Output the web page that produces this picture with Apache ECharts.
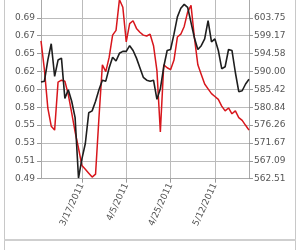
<!DOCTYPE html>
<html><head><meta charset="utf-8">
<script src="https://cdn.jsdelivr.net/npm/echarts@6/dist/echarts.min.js"></script>
<style>html,body{margin:0;padding:0;background:#fff}#c{width:300px;height:250px}</style>
</head><body><div id="c"></div>
<script>
var dates = ["3/1/2011","3/2/2011","3/3/2011","3/4/2011","3/7/2011","3/8/2011","3/9/2011","3/10/2011","3/11/2011","3/14/2011","3/15/2011","3/16/2011","3/17/2011","3/18/2011","3/21/2011","3/22/2011","3/23/2011","3/24/2011","3/25/2011","3/28/2011","3/29/2011","3/30/2011","3/31/2011","4/1/2011","4/4/2011","4/5/2011","4/6/2011","4/7/2011","4/8/2011","4/11/2011","4/12/2011","4/13/2011","4/14/2011","4/15/2011","4/18/2011","4/19/2011","4/20/2011","4/21/2011","4/25/2011","4/26/2011","4/27/2011","4/28/2011","4/29/2011","5/2/2011","5/3/2011","5/4/2011","5/5/2011","5/6/2011","5/9/2011","5/10/2011","5/11/2011","5/12/2011","5/13/2011","5/16/2011","5/17/2011","5/18/2011","5/19/2011","5/20/2011","5/23/2011","5/24/2011","5/25/2011","5/26/2011"];
var redValues = [0.6639,0.6266,0.5770,0.5534,0.5484,0.6105,0.6130,0.6117,0.5944,0.5708,0.5460,0.5249,0.5025,0.4976,0.4926,0.4876,0.4914,0.5646,0.6328,0.6241,0.6428,0.6713,0.6775,0.7172,0.7073,0.6626,0.6862,0.6899,0.6800,0.6750,0.6713,0.6701,0.6725,0.6576,0.6254,0.5460,0.6328,0.6291,0.6266,0.6390,0.6688,0.6725,0.6825,0.7011,0.7098,0.6676,0.6328,0.6204,0.6080,0.6018,0.5956,0.5919,0.5881,0.5795,0.5733,0.5770,0.5695,0.5733,0.5646,0.5609,0.5546,0.5484];
var blackValues = [587.28,587.52,592.93,597.12,588.75,592.93,593.43,583.10,585.31,582.36,578.18,562.68,567.60,571.54,579.41,579.90,582.36,585.31,587.77,587.52,590.97,593.67,592.69,594.66,595.15,595.15,596.62,595.39,593.43,590.97,588.51,587.77,587.52,587.77,582.85,585.56,591.21,595.39,595.64,599.58,604.00,606.22,607.20,606.46,602.53,598.59,595.64,596.62,598.35,603.02,597.61,598.35,595.39,590.72,591.21,595.64,595.39,589.74,584.82,585.06,586.79,588.02];
var leftTicks = [0.48552,0.50864,0.53176,0.55488,0.57800,0.60112,0.62424,0.64736,0.67048,0.69360];
var rightTicks = [562.51,567.09,571.67,576.26,580.84,585.42,590.00,594.58,599.17,603.75];
var labelDates = ["3/17/2011","4/5/2011","4/25/2011","5/12/2011"];

var chart = echarts.init(document.getElementById('c'), null, {renderer:'canvas'});
var font = {fontFamily:'DejaVu Sans', fontSize:9, color:'#555'};
function showDate(i, v){ return labelDates.indexOf(v) >= 0; }
chart.setOption({
  animation:false,
  grid:{left:41, right:51, top:-7.6, bottom:71.3, containLabel:false},
  xAxis:{type:'category', data:dates, boundaryGap:false,
    axisLine:{lineStyle:{color:'#aaa'}},
    axisTick:{interval:showDate, length:4, lineStyle:{color:'#999'}},
    axisLabel:Object.assign({interval:showDate, rotate:65, margin:5}, font),
    splitLine:{show:true, interval:showDate, lineStyle:{color:'#bbb'}}},
  yAxis:[
    {type:'value', min:0.48552, max:0.71672, position:'left',
     axisLine:{show:true, lineStyle:{color:'#aaa'}},
     axisTick:{show:true, length:4, customValues:leftTicks, lineStyle:{color:'#999'}},
     axisLabel:Object.assign({customValues:leftTicks, margin:6, formatter:function(v){return v.toFixed(2);}}, font),
     splitLine:{show:true, lineStyle:{color:'#bbb'}}},
    {type:'value', min:562.51, max:608.33, position:'right',
     axisLine:{show:true, lineStyle:{color:'#aaa'}},
     axisTick:{show:true, length:4, customValues:rightTicks, lineStyle:{color:'#999'}},
     axisLabel:Object.assign({customValues:rightTicks, margin:5, formatter:function(v){return v.toFixed(2);}}, font),
     splitLine:{show:false}}
  ],
  series:[
    {type:'line', name:'red', yAxisIndex:0, data:redValues, symbol:'none', lineStyle:{color:'#d8161c', width:1.5}},
    {type:'line', name:'black', yAxisIndex:1, data:blackValues, symbol:'none', lineStyle:{color:'#1e1e1e', width:1.6}}
  ],
  graphic:[
    {type:'rect', shape:{x:4.5, y:-5, width:291, height:265}, style:{fill:'none', stroke:'#c8c8c8', lineWidth:1}, silent:true},
    {type:'line', shape:{x1:4, y1:240, x2:296, y2:240}, style:{stroke:'#cfcfcf', lineWidth:2}, silent:true}
  ]
});
</script></body></html>
